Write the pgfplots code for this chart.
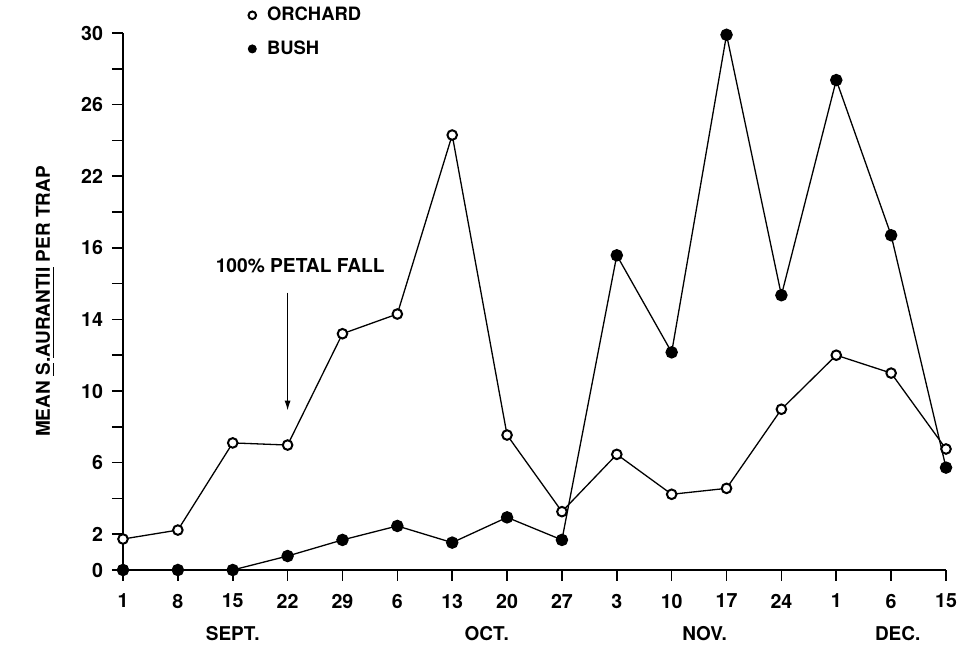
\documentclass[border=0pt]{standalone}
\usepackage{fontspec}
\setmainfont{TeX Gyre Heros}
\usepackage{pgfplots}
\pgfplotsset{compat=1.18}
\usetikzlibrary{arrows.meta}

\pgfplotstableread{
x orchard bush
0  1.73  0.00
1  2.23  0.00
2  7.10  0.00
3  6.98  0.78
4  13.20 1.68
5  14.30 2.46
6  24.30 1.53
7  7.54  2.94
8  3.26  1.68
9  6.46  17.58
10 4.23  12.16
11 4.56  29.90
12 8.98  15.35
13 12.00 27.37
14 11.00 18.70
15 6.76  5.72
}\datatable

\begin{document}
\begin{tikzpicture}
\begin{axis}[
  name=ax,
  scale only axis,
  width=411.5pt, height=268.5pt,
  xmin=0, xmax=15, ymin=0, ymax=30,
  clip=false,
  axis lines=left,
  axis line style={line width=1pt,-},
  tick align=outside,
  major tick length=5.5pt,
  minor tick length=5.5pt,
  tick style={line width=0.8pt,black},
  xtick={0,...,15},
  xticklabels={1,8,15,22,29,6,13,20,27,3,10,17,24,1,6,15},
  ytick={0,2,6,10,14,18,22,26,30},
  yticklabels={0,2,6,10,14,16,22,26,30},
  minor ytick={4,8,12,16,20,24,28},
  /pgf/number format/assume math mode=true,
  font=\fontsize{9.5}{11}\selectfont\bfseries,
  tick label style={font=\fontsize{9.8}{11}\selectfont\bfseries},
  xticklabel style={yshift=-3pt},
  yticklabel style={xshift=-1pt},
  ylabel={MEAN \underline{S}.\underline{AURANTII} PER TRAP},
  every axis y label/.style={at={(axis description cs:0,0.5)},xshift=-39pt,rotate=90,anchor=center,font=\fontsize{9.5}{11}\selectfont\bfseries},
  legend style={draw=none,fill=none,at={(axis cs:2.28,31.7)},anchor=north west,
    row sep=4.5pt,column sep=3.5pt,font=\fontsize{9.2}{11}\selectfont\bfseries,inner sep=0pt},
  legend cell align=left,
  legend image code/.code={\draw[#1,only marks,mark size=1.9pt] plot coordinates {(0pt,0pt)};},
]
\addplot[black,line width=0.65pt,mark=*,mark size=2.4pt,
  mark options={fill=white,draw=black,line width=1pt}]
  table[x=x,y=orchard]{\datatable};
\addlegendentry{ORCHARD}
\addplot[black,line width=0.65pt,mark=*,mark size=2.8pt,
  mark options={fill=black,draw=black}]
  table[x=x,y=bush]{\datatable};
\addlegendentry{BUSH}

\draw[line width=0.65pt,-{Latex[length=5pt,width=3pt]}] (axis cs:3,15.5) -- (axis cs:3,8.9);
\node[font=\fontsize{9.6}{11}\selectfont\bfseries] at (axis cs:3.23,17.0) {100\% PETAL FALL};
\node at (axis cs:2,0) [yshift=-32pt] {SEPT.};
\node at (axis cs:6.63,0) [yshift=-32pt] {OCT.};
\node at (axis cs:10.6,0) [yshift=-32pt] {NOV.};
\node at (axis cs:14.12,0) [yshift=-32pt] {DEC.};
\end{axis}
\pgfresetboundingbox
\path[use as bounding box] ([xshift=-61.5pt,yshift=-38pt]ax.south west) rectangle ([xshift=6pt,yshift=16.5pt]ax.north east);
\end{tikzpicture}
\end{document}
